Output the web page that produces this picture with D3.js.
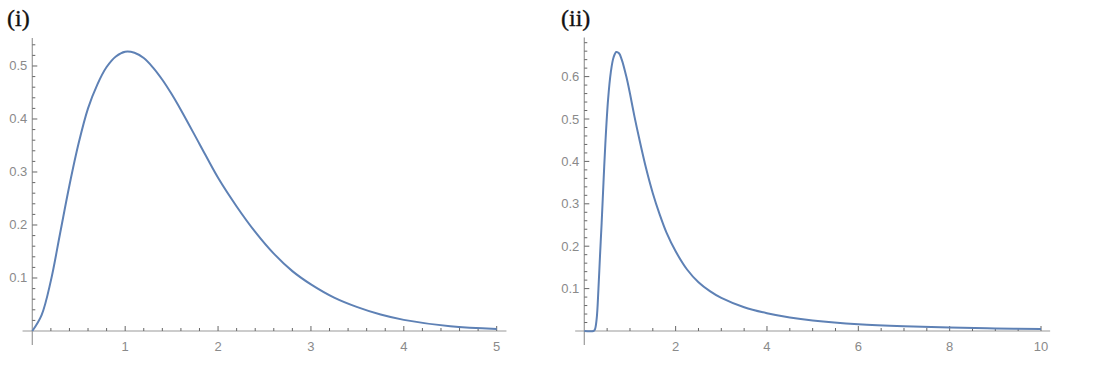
<!DOCTYPE html>
<html>
<head>
<meta charset="utf-8">
<script src="https://cdn.jsdelivr.net/npm/d3@7"></script>
<style>
  body { margin: 0; background: #fff; }
  svg { display: block; }
  .tick-label { font-family: "Liberation Sans", Arial, sans-serif; font-size: 13px; fill: #8a8a8a; }
  .panel-title { font-family: "Liberation Serif", "Times New Roman", serif; font-size: 24px; fill: #111; stroke: #111; stroke-width: 0.35; }
</style>
</head>
<body>
<svg id="svg1" width="1101" height="379"></svg>
<script>
// values
var leftX = [0, 0.1, 0.2, 0.3, 0.4, 0.5, 0.6, 0.7, 0.8, 0.9, 1.0, 1.1, 1.2, 1.3, 1.4, 1.5, 1.6, 1.8, 2.0, 2.2, 2.4, 2.6, 2.8, 3.0, 3.25, 3.5, 3.75, 4.0, 4.5, 5.0];
var leftY = [0, 0.03, 0.095, 0.185, 0.275, 0.355, 0.42, 0.465, 0.498, 0.518, 0.527, 0.525, 0.515, 0.497, 0.474, 0.447, 0.417, 0.353, 0.289, 0.235, 0.187, 0.146, 0.113, 0.088, 0.063, 0.045, 0.031, 0.021, 0.009, 0.004];

var rightX = [0, 0.2, 0.23, 0.27, 0.31, 0.345, 0.38, 0.42, 0.46, 0.52, 0.58, 0.64, 0.70, 0.76, 0.82, 0.92, 1.0, 1.1, 1.2, 1.35, 1.5, 1.65, 1.8, 2.0, 2.25, 2.5, 2.75, 3.0, 3.5, 4.0, 4.5, 5.0, 6.0, 7.0, 8.0, 9.0, 10.0];
var rightY = [0, 0, 0.003, 0.028, 0.10, 0.18, 0.255, 0.35, 0.44, 0.545, 0.61, 0.645, 0.658, 0.655, 0.64, 0.60, 0.56, 0.505, 0.455, 0.385, 0.325, 0.275, 0.232, 0.188, 0.145, 0.115, 0.094, 0.078, 0.056, 0.042, 0.032, 0.025, 0.016, 0.011, 0.008, 0.006, 0.0048];

var leftXTicks = [1, 2, 3, 4, 5];
var leftYTicks = [0.1, 0.2, 0.3, 0.4, 0.5];
var rightXTicks = [2, 4, 6, 8, 10];
var rightYTicks = [0.1, 0.2, 0.3, 0.4, 0.5, 0.6];

var svg = d3.select('#svg1');

function makePanel(opts) {
    var xs = d3.scaleLinear().domain(opts.xDomain).range(opts.xRange);
    var ys = d3.scaleLinear().domain(opts.yDomain).range(opts.yRange);
    var g = svg.append('g');

    // x axis line, reaching a little past both ends
    g.append('line')
        .attr('x1', xs(opts.xExtent[0])).attr('x2', xs(opts.xExtent[1]))
        .attr('y1', ys(0)).attr('y2', ys(0))
        .attr('stroke', '#9a9a9a').attr('stroke-width', 1.2);

    // y axis line, a bit below zero too
    g.append('line')
        .attr('x1', xs(0)).attr('x2', xs(0))
        .attr('y1', ys(opts.yDomain[1])).attr('y2', ys(0) + 14)
        .attr('stroke', '#9a9a9a').attr('stroke-width', 1.2);

    // x ticks (minor + major), pointing up
    d3.range(opts.xMinorStep, opts.xDomain[1] + 1e-9, opts.xMinorStep).forEach(function(v) {
        var major = opts.xTicks.some(function(t) { return Math.abs(t - v) < 1e-6; });
        g.append('line')
            .attr('x1', xs(v)).attr('x2', xs(v))
            .attr('y1', ys(0)).attr('y2', ys(0) - (major ? 5 : 3))
            .attr('stroke', '#666').attr('stroke-width', 1);
    });

    // y ticks, pointing right
    d3.range(opts.yMinorStep, opts.yDomain[1], opts.yMinorStep).forEach(function(v) {
        var major = opts.yTicks.some(function(t) { return Math.abs(t - v) < 1e-6; });
        g.append('line')
            .attr('x1', xs(0)).attr('x2', xs(0) + (major ? 5 : 3))
            .attr('y1', ys(v)).attr('y2', ys(v))
            .attr('stroke', '#666').attr('stroke-width', 1);
    });

    g.selectAll('.xl')
        .data(opts.xTicks)
        .enter().append('text')
        .attr('class', 'tick-label')
        .attr('x', function(d) { return xs(d); })
        .attr('y', ys(0) + 20)
        .style('text-anchor', 'middle')
        .text(function(d) { return d; });

    g.selectAll('.yl')
        .data(opts.yTicks)
        .enter().append('text')
        .attr('class', 'tick-label')
        .attr('x', xs(0) - 5)
        .attr('y', function(d) { return ys(d) + 4.5; })
        .style('text-anchor', 'end')
        .text(function(d) { return d.toFixed(1); });

    var pts = opts.xs.map(function(x, i) { return [x, opts.ys[i]]; });
    var makeLine = d3.line()
        .x(function(d) { return xs(d[0]); })
        .y(function(d) { return ys(d[1]); })
        .curve(d3.curveCatmullRom.alpha(0.5));

    g.append('path')
        .datum(pts)
        .attr('d', makeLine)
        .attr('fill', 'none')
        .attr('stroke', '#5e81b5')
        .attr('stroke-width', 2);

    g.append('text')
        .attr('class', 'panel-title')
        .attr('x', opts.titleX)
        .attr('y', 26)
        .text(opts.title);
}

makePanel({
    xDomain: [0, 5], xRange: [32.3, 496.7],
    yDomain: [0, 0.553], yRange: [331, 37.9],
    xExtent: [-0.105, 5.105],
    xTicks: leftXTicks, yTicks: leftYTicks,
    xMinorStep: 0.2, yMinorStep: 0.02,
    xs: leftX, ys: leftY,
    title: '(i)', titleX: 7
});

makePanel({
    xDomain: [0, 10], xRange: [584.3, 1041],
    yDomain: [0, 0.692], yRange: [331, 37.6],
    xExtent: [-0.2, 10.2],
    xTicks: rightXTicks, yTicks: rightYTicks,
    xMinorStep: 0.5, yMinorStep: 0.02,
    xs: rightX, ys: rightY,
    title: '(ii)', titleX: 561
});
</script>
</body>
</html>
